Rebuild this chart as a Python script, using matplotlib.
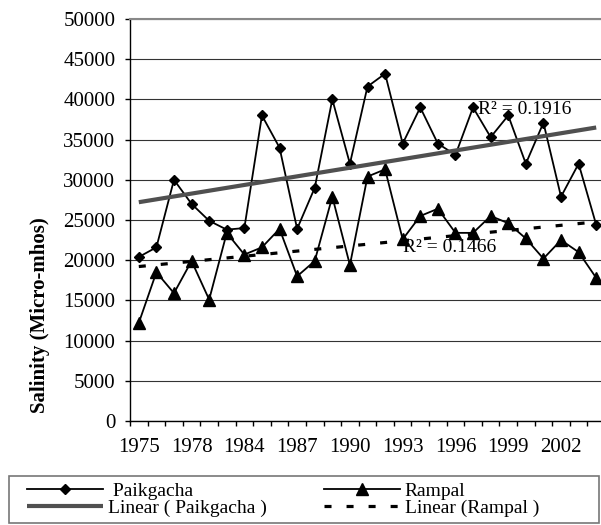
import numpy as np
import matplotlib
matplotlib.use("Agg")
import matplotlib.pyplot as plt
from matplotlib.patches import Rectangle

plt.rcParams['font.family'] = ['Liberation Serif', 'DejaVu Serif']

years = [1975, 1976, 1977, 1978, 1979, 1980, 1984, 1985, 1986, 1987, 1988, 1989,
         1990, 1991, 1992, 1993, 1994, 1995, 1996, 1997, 1998, 1999, 2000, 2001,
         2002, 2003, 2004]
paikgacha = [20400, 21600, 30000, 27000, 24900, 23800, 24000, 38000, 34000, 23900,
             29000, 40000, 32000, 41600, 43200, 34500, 39000, 34500, 33100, 39000,
             35300, 38000, 32000, 37100, 27900, 32000, 24400]
rampal = [12200, 18500, 15900, 19900, 15100, 23400, 20700, 21600, 23900, 18000,
          19900, 27900, 19400, 30400, 31300, 22600, 25500, 26400, 23400, 23400,
          25500, 24600, 22700, 20200, 22500, 21000, 17800]
r2_paik = "R² = 0.1916"
r2_ramp = "R² = 0.1466"
yticks = [0, 5000, 10000, 15000, 20000, 25000, 30000, 35000, 40000, 45000, 50000]

W, H = 601, 525
fig = plt.figure(figsize=(W / 100, H / 100), dpi=100)
ax = fig.add_axes([130 / W, 104 / H, 475 / W, 402 / H])

x = np.arange(len(years))
ax.plot(x, paikgacha, color='black', lw=1.3, marker='D', ms=5.6,
        mfc='black', mec='black', label=' Paikgacha', zorder=3)
ax.plot(x, rampal, color='black', lw=1.3, marker='^', ms=8.5,
        mfc='black', mec='black', label='Rampal', zorder=3)

cp = np.polyfit(x, paikgacha, 1)
cr = np.polyfit(x, rampal, 1)
ax.plot(x, np.polyval(cp, x), color='#505050', lw=3.0, solid_capstyle='butt',
        label='Linear ( Paikgacha )', zorder=4)
ax.plot(x, np.polyval(cr, x), color='black', lw=2.3, linestyle=(0, (2.2, 4.7)),
        label='Linear (Rampal )', zorder=4)

ax.text(19.28, 38700, r2_paik, fontsize=14, ha='left', va='center', zorder=5)
ax.text(15.02, 21640, r2_ramp, fontsize=14, ha='left', va='center', zorder=5)

ax.set_xlim(-0.5, len(years) - 0.5)
ax.set_ylim(0, 50000)
ax.set_yticks(yticks)
ax.set_yticklabels([str(v) for v in yticks], fontsize=15)
ax.set_xticks(x[::3])
ax.set_xticklabels([str(y) for y in years[::3]], fontsize=15)
ax.set_xticks(np.arange(-0.5, len(years)), minor=True)
ax.tick_params(axis='x', which='major', length=0, pad=12)
ax.tick_params(axis='x', which='minor', length=3.6, width=1.0, direction='out')
ax.tick_params(axis='y', which='major', length=3.6, width=1.0, direction='out', pad=7)

ax.grid(axis='y', color='#333333', lw=0.8)
ax.set_axisbelow(True)
for s in ['left', 'bottom']:
    ax.spines[s].set_color('black')
    ax.spines[s].set_linewidth(1.0)
for s in ['top', 'right']:
    ax.spines[s].set_color('#888888')
    ax.spines[s].set_linewidth(1.5)

fig.text(40 / W, 1 - 315 / H, 'Salinity (Micro-mhos)', rotation=90, fontsize=15,
         fontweight='bold', ha='center', va='center')

# legend frame
fig.add_artist(Rectangle((9 / W, 2 / H), 590 / W, 47 / H, transform=fig.transFigure,
                         fill=False, edgecolor='#777777', lw=1.2))
h, l = ax.get_legend_handles_labels()
order = [0, 2, 1, 3]
fig.legend([h[i] for i in order], [l[i] for i in order], ncol=2, frameon=False,
           loc='upper left', bbox_to_anchor=(27 / W, 1 - 482 / H), fontsize=14,
           borderpad=0, borderaxespad=0, handlelength=3.9, handletextpad=0.25,
           columnspacing=2.95, labelspacing=0.0, numpoints=1)

fig.savefig('out.png', dpi=100)
